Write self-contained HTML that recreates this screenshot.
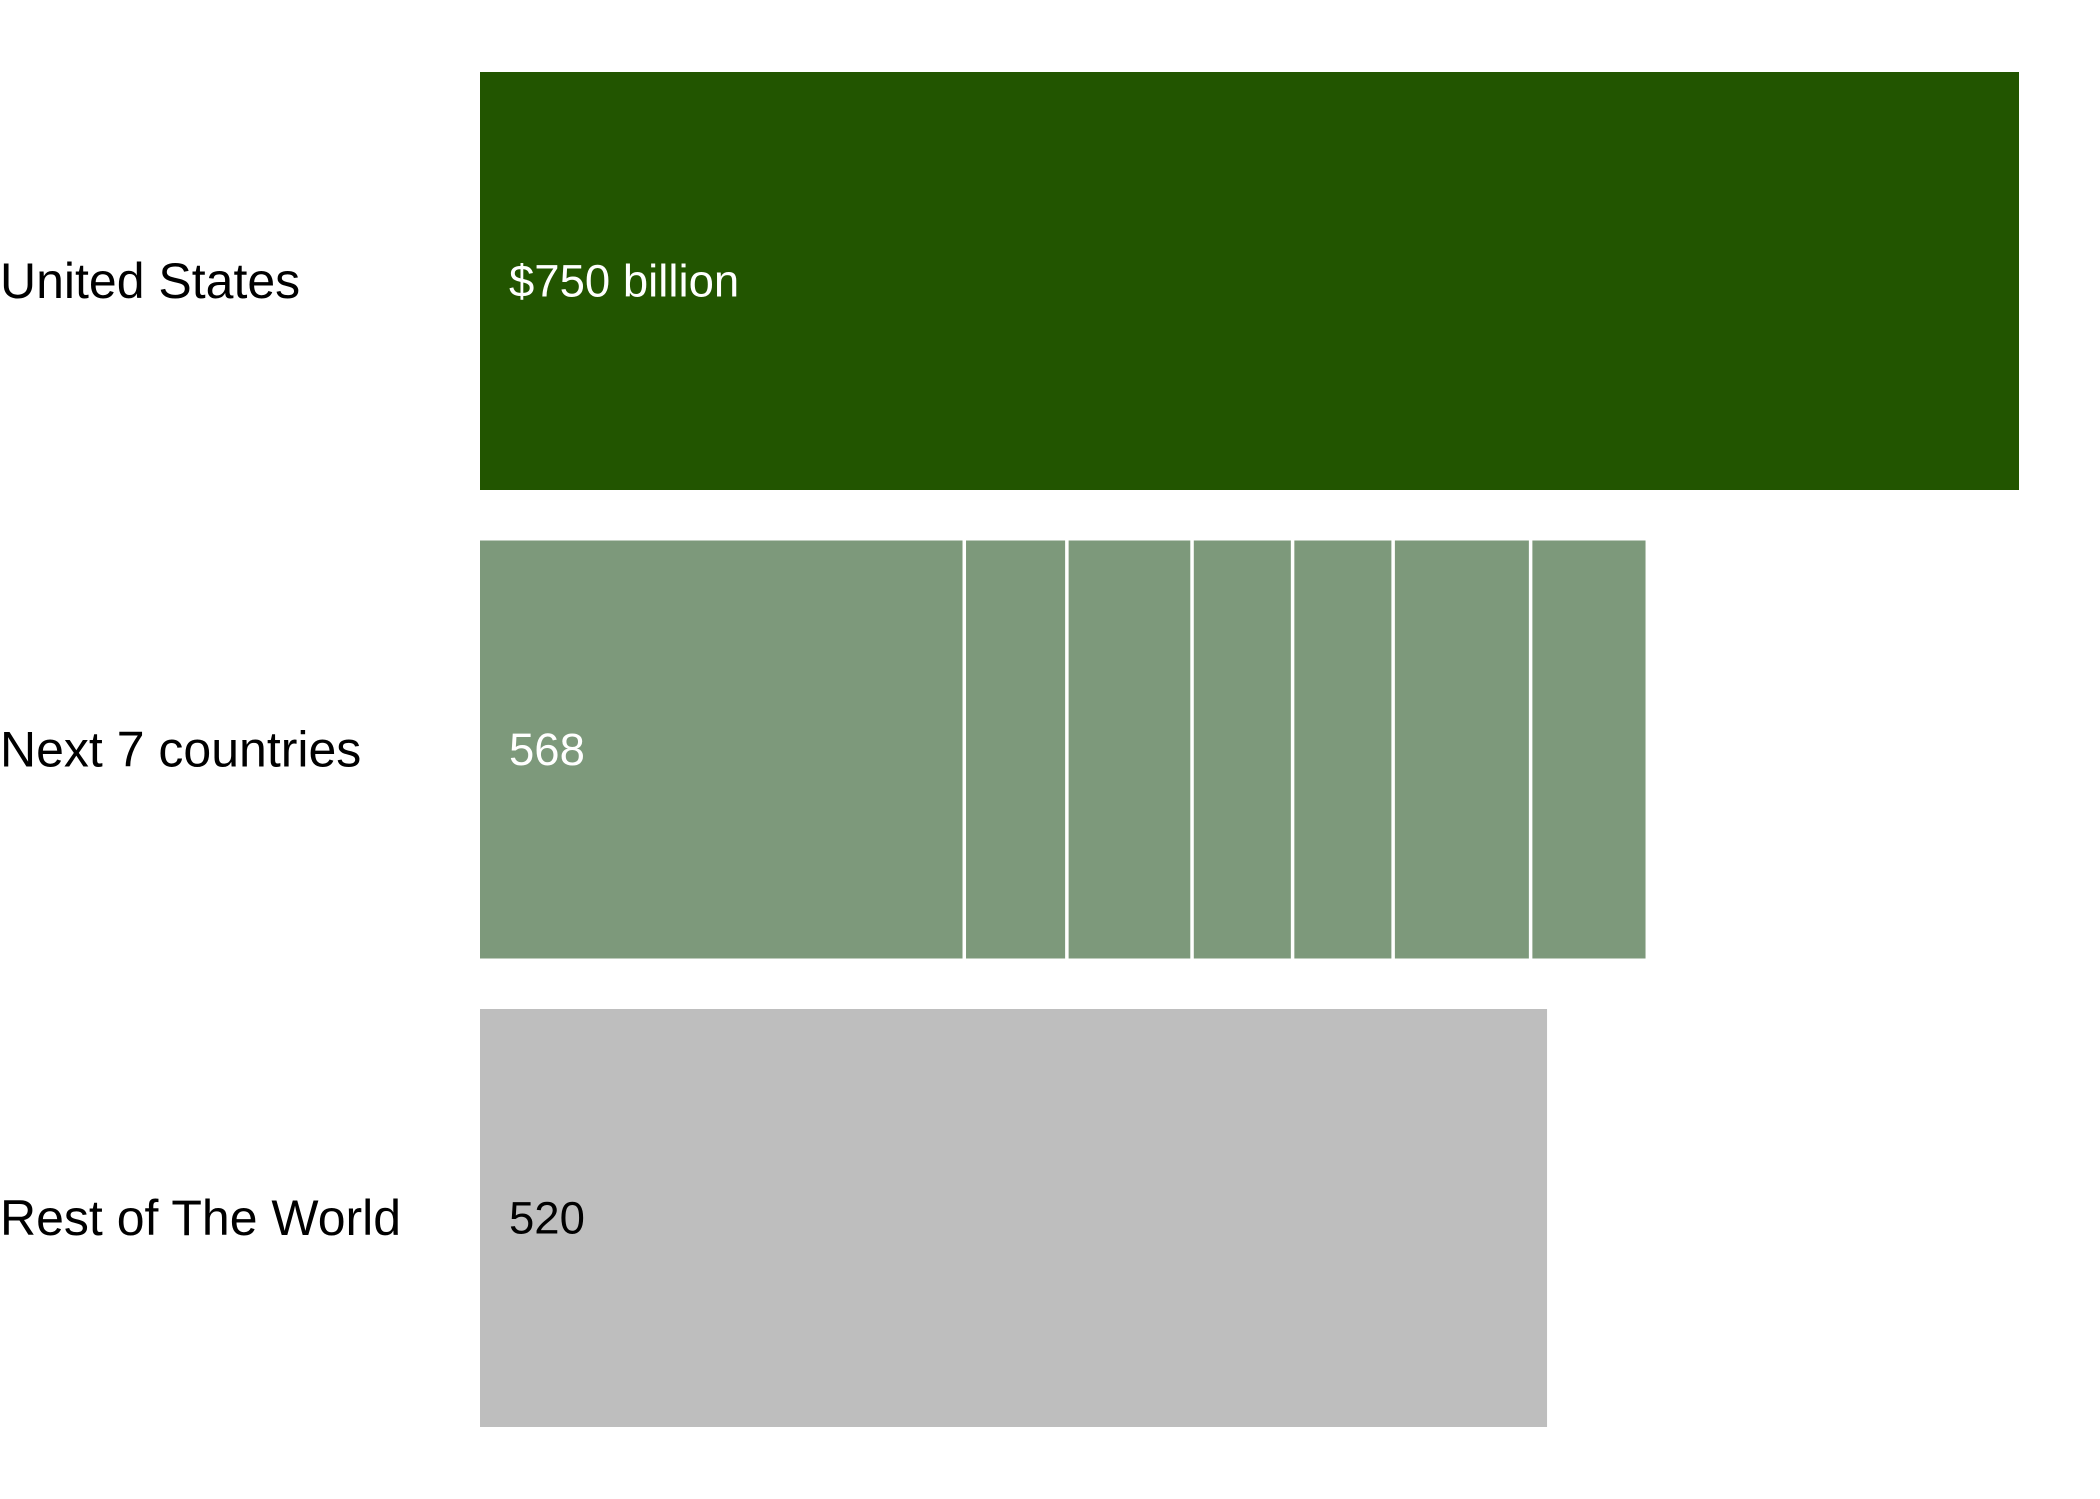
<!DOCTYPE html>
<html><head><meta charset="utf-8"><style>
html,body{margin:0;padding:0;background:#fff;}
svg{display:block;font-family:"Liberation Sans",Arial,sans-serif;}
</style></head><body>
<svg id="chart" width="2100" height="1499" viewBox="0 0 2100 1499"></svg>
<script>
const categories = ["United States", "Next 7 countries", "Rest of The World"];
const totals = [750, 568, 520];
const valueLabels = ["$750 billion", "568", "520"];
const next7Segments = [236, 50, 61, 49, 49, 67, 56];
const colors = ["#225500", "#7d997b", "#bebebe"];
const labelColors = ["#ffffff", "#ffffff", "#000000"];

const NS = "http://www.w3.org/2000/svg";
const svg = document.getElementById("chart");
const x0 = 480, pxPerUnit = (2019 - 480) / 750;
const top0 = 72, bandStep = 468.5, barH = 418;
function xScale(v){ return x0 + v * pxPerUnit; }
function yTop(i){ return top0 + i * bandStep; }

categories.forEach((c, i) => {
  const y = yTop(i);
  const rect = document.createElementNS(NS, "rect");
  rect.setAttribute("x", x0);
  rect.setAttribute("y", y);
  rect.setAttribute("width", xScale(totals[i]) - x0);
  rect.setAttribute("height", barH);
  rect.setAttribute("fill", colors[i]);
  
  
  svg.appendChild(rect);

  const lab = document.createElementNS(NS, "text");
  lab.setAttribute("x", 0);
  lab.setAttribute("y", y + barH / 2);
  lab.setAttribute("dominant-baseline", "central");
  lab.setAttribute("font-size", "50");
  lab.setAttribute("fill", "#000");
  lab.textContent = c;
  
  
  svg.appendChild(lab);

  const val = document.createElementNS(NS, "text");
  val.setAttribute("x", 509);
  val.setAttribute("y", y + barH / 2);
  val.setAttribute("dominant-baseline", "central");
  val.setAttribute("font-size", "45.5");
  val.setAttribute("fill", labelColors[i]);
  val.textContent = valueLabels[i];
  
  
  svg.appendChild(val);
});

let cum = 0;
for (let k = 0; k < next7Segments.length - 1; k++) {
  cum += next7Segments[k];
  const line = document.createElementNS(NS, "rect");
  line.setAttribute("x", xScale(cum) - 1.75);
  line.setAttribute("y", yTop(1));
  line.setAttribute("width", 3.5);
  line.setAttribute("height", barH);
  line.setAttribute("fill", "#ffffff");
  
  
  svg.appendChild(line);
}
</script>
</body></html>
